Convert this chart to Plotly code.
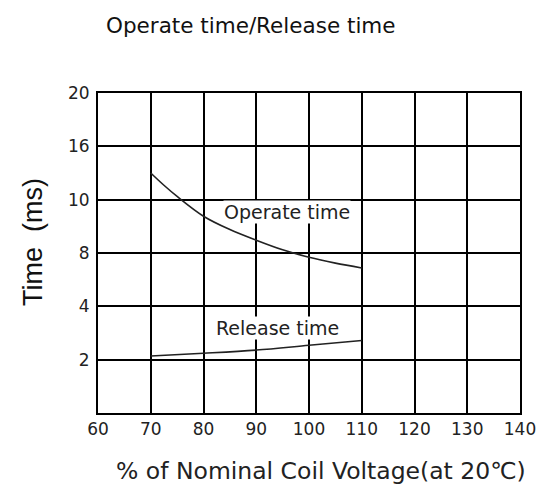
import plotly.graph_objects as go

# x: % of nominal coil voltage
x_ticks = [60, 70, 80, 90, 100, 110, 120, 130, 140]
# y axis: evenly spaced grid rows labelled with these (non-linear) times
y_tick_pos = [1, 2, 3, 4, 5, 6]
y_tick_text = ["2", "4", "8", "10", "16", "20"]

# curves, expressed in grid-row position units
operate_x = [70, 72.5, 75, 80, 85, 90, 95, 100, 105, 110]
operate_y = [4.5, 4.27, 4.06, 3.69, 3.44, 3.24, 3.06, 2.92, 2.81, 2.72]
release_x = [70, 80, 90, 100, 110]
release_y = [1.07, 1.12, 1.18, 1.27, 1.36]

fig = go.Figure()
fig.add_trace(go.Scatter(x=operate_x, y=operate_y, mode="lines",
                         line=dict(color="#222", width=1.6, shape="spline"),
                         showlegend=False))
fig.add_trace(go.Scatter(x=release_x, y=release_y, mode="lines",
                         line=dict(color="#222", width=1.6, shape="spline"),
                         showlegend=False))

font = "DejaVu Sans, Arial, sans-serif"
PX_L, PX_B, PW, PH = 98, 413, 422, 320


def px(xp):
    return (xp - PX_L) / PW


def py(yp):
    return (PX_B - yp) / PH


fig.add_annotation(x=95.8, y=3.77, text="Operate time", showarrow=False,
                   bgcolor="white", borderpad=0,
                   font=dict(size=19, color="#222", family=font))
fig.add_annotation(x=94, y=1.6, text="Release time", showarrow=False,
                   bgcolor="white", borderpad=0,
                   font=dict(size=19, color="#222", family=font))

fig.add_annotation(xref="paper", yref="paper", x=px(104), y=py(25),
                   xanchor="left", yanchor="middle", showarrow=False,
                   text="Operate time/Release time",
                   font=dict(size=21.5, color="#111", family=font))
fig.add_annotation(xref="paper", yref="paper", x=px(33), y=py(242),
                   xanchor="center", yanchor="middle", showarrow=False, textangle=-90,
                   text="Time  (ms)",
                   font=dict(size=27, color="#111", family="Liberation Sans, Arial, sans-serif"))
fig.add_annotation(xref="paper", yref="paper", x=px(321), y=py(471),
                   xanchor="center", yanchor="middle", showarrow=False,
                   text="% of Nominal Coil Voltage(at 20℃)",
                   font=dict(size=23.5, color="#222", family=font))

fig.update_xaxes(range=[60, 140], tickvals=x_ticks, showgrid=True, gridcolor="black",
                 gridwidth=2, showline=True, linecolor="black", linewidth=2, mirror=True,
                 zeroline=False, ticks="", automargin=False,
                 tickfont=dict(size=17, color="#222", family=font))
fig.update_yaxes(range=[0, 6], tickvals=y_tick_pos, ticktext=y_tick_text, showgrid=True,
                 gridcolor="black", gridwidth=2, showline=True, linecolor="black",
                 linewidth=2, mirror=True, zeroline=False, ticks="", ticklabelstandoff=3,
                 automargin=False, tickfont=dict(size=17, color="#222", family=font))

# page body has an 8px margin, so the figure is offset by (8, 8)
fig.update_layout(width=530, height=480, margin=dict(l=90, r=18, t=85, b=75),
                  plot_bgcolor="white", paper_bgcolor="white")

fig.write_html("out.html")
